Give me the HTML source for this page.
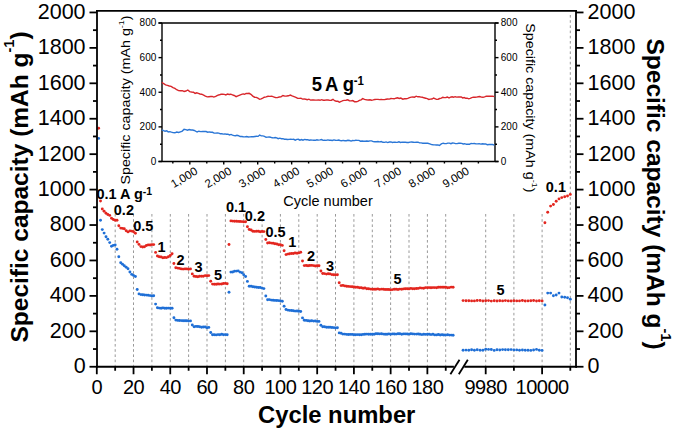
<!DOCTYPE html>
<html><head><meta charset="utf-8"><style>
html,body{margin:0;padding:0;background:#fff;width:675px;height:431px;overflow:hidden;position:relative}
</style></head><body>
<svg width="675" height="431" viewBox="0 0 675 431" style="position:absolute;left:0;top:0"><g stroke="#999" stroke-width="1" stroke-dasharray="2.6 2.6"><line x1="115.2" y1="214" x2="115.2" y2="365.75"/><line x1="133.5" y1="214" x2="133.5" y2="365.75"/><line x1="151.9" y1="214" x2="151.9" y2="365.75"/><line x1="170.3" y1="214" x2="170.3" y2="365.75"/><line x1="188.6" y1="214" x2="188.6" y2="365.75"/><line x1="207.0" y1="214" x2="207.0" y2="365.75"/><line x1="225.4" y1="214" x2="225.4" y2="365.75"/><line x1="243.7" y1="214" x2="243.7" y2="365.75"/><line x1="262.1" y1="214" x2="262.1" y2="365.75"/><line x1="280.4" y1="214" x2="280.4" y2="365.75"/><line x1="298.8" y1="214" x2="298.8" y2="365.75"/><line x1="317.2" y1="214" x2="317.2" y2="365.75"/><line x1="335.5" y1="214" x2="335.5" y2="365.75"/><line x1="353.9" y1="214" x2="353.9" y2="365.75"/><line x1="372.3" y1="214" x2="372.3" y2="365.75"/><line x1="390.6" y1="214" x2="390.6" y2="365.75"/><line x1="409.0" y1="214" x2="409.0" y2="365.75"/><line x1="427.4" y1="214" x2="427.4" y2="365.75"/><line x1="445.7" y1="214" x2="445.7" y2="365.75"/><line x1="485.7" y1="214" x2="485.7" y2="365.75"/><line x1="513.9" y1="214" x2="513.9" y2="365.75"/><line x1="542.1" y1="214" x2="542.1" y2="365.75"/><line x1="570.3" y1="15" x2="570.3" y2="365.75"/></g><g fill="#e3261f"><circle cx="98.6" cy="128.2" r="1.45"/><circle cx="100.5" cy="201.0" r="1.45"/><circle cx="102.3" cy="209.0" r="1.45"/><circle cx="104.1" cy="211.3" r="1.45"/><circle cx="106.0" cy="213.2" r="1.45"/><circle cx="107.8" cy="214.5" r="1.45"/><circle cx="109.7" cy="215.4" r="1.45"/><circle cx="111.5" cy="218.2" r="1.45"/><circle cx="113.3" cy="219.5" r="1.45"/><circle cx="115.2" cy="220.2" r="1.45"/><circle cx="117.0" cy="220.3" r="1.45"/><circle cx="118.8" cy="225.7" r="1.45"/><circle cx="120.7" cy="228.1" r="1.45"/><circle cx="122.5" cy="228.4" r="1.45"/><circle cx="124.3" cy="228.8" r="1.45"/><circle cx="126.2" cy="230.7" r="1.45"/><circle cx="128.0" cy="231.9" r="1.45"/><circle cx="129.9" cy="230.9" r="1.45"/><circle cx="131.7" cy="231.1" r="1.45"/><circle cx="133.5" cy="231.7" r="1.45"/><circle cx="135.4" cy="233.2" r="1.45"/><circle cx="137.2" cy="242.0" r="1.45"/><circle cx="139.0" cy="244.4" r="1.45"/><circle cx="140.9" cy="246.6" r="1.45"/><circle cx="142.7" cy="247.0" r="1.45"/><circle cx="144.5" cy="246.8" r="1.45"/><circle cx="146.4" cy="245.5" r="1.45"/><circle cx="148.2" cy="244.9" r="1.45"/><circle cx="150.1" cy="245.0" r="1.45"/><circle cx="151.9" cy="244.6" r="1.45"/><circle cx="153.7" cy="244.6" r="1.45"/><circle cx="155.6" cy="252.4" r="1.45"/><circle cx="157.4" cy="256.0" r="1.45"/><circle cx="159.2" cy="256.8" r="1.45"/><circle cx="161.1" cy="257.0" r="1.45"/><circle cx="162.9" cy="257.8" r="1.45"/><circle cx="164.8" cy="257.5" r="1.45"/><circle cx="166.6" cy="257.6" r="1.45"/><circle cx="168.4" cy="256.7" r="1.45"/><circle cx="170.3" cy="255.5" r="1.45"/><circle cx="172.1" cy="253.8" r="1.45"/><circle cx="173.9" cy="263.5" r="1.45"/><circle cx="175.8" cy="267.8" r="1.45"/><circle cx="177.6" cy="268.1" r="1.45"/><circle cx="179.4" cy="268.4" r="1.45"/><circle cx="181.3" cy="268.9" r="1.45"/><circle cx="183.1" cy="269.1" r="1.45"/><circle cx="185.0" cy="268.9" r="1.45"/><circle cx="186.8" cy="268.9" r="1.45"/><circle cx="188.6" cy="269.2" r="1.45"/><circle cx="190.5" cy="268.9" r="1.45"/><circle cx="192.3" cy="273.9" r="1.45"/><circle cx="194.1" cy="276.3" r="1.45"/><circle cx="196.0" cy="276.5" r="1.45"/><circle cx="197.8" cy="276.8" r="1.45"/><circle cx="199.6" cy="276.3" r="1.45"/><circle cx="201.5" cy="276.3" r="1.45"/><circle cx="203.3" cy="276.2" r="1.45"/><circle cx="205.2" cy="275.6" r="1.45"/><circle cx="207.0" cy="275.8" r="1.45"/><circle cx="208.8" cy="275.6" r="1.45"/><circle cx="210.7" cy="281.2" r="1.45"/><circle cx="212.5" cy="284.1" r="1.45"/><circle cx="214.3" cy="284.3" r="1.45"/><circle cx="216.2" cy="284.3" r="1.45"/><circle cx="218.0" cy="284.0" r="1.45"/><circle cx="219.8" cy="284.1" r="1.45"/><circle cx="221.7" cy="284.0" r="1.45"/><circle cx="223.5" cy="283.5" r="1.45"/><circle cx="225.4" cy="283.4" r="1.45"/><circle cx="227.2" cy="283.7" r="1.45"/><circle cx="229.0" cy="244.5" r="1.45"/><circle cx="230.9" cy="220.9" r="1.45"/><circle cx="232.7" cy="221.1" r="1.45"/><circle cx="234.5" cy="221.3" r="1.45"/><circle cx="236.4" cy="221.3" r="1.45"/><circle cx="238.2" cy="221.4" r="1.45"/><circle cx="240.0" cy="221.5" r="1.45"/><circle cx="241.9" cy="221.6" r="1.45"/><circle cx="243.7" cy="221.9" r="1.45"/><circle cx="245.6" cy="221.8" r="1.45"/><circle cx="247.4" cy="226.8" r="1.45"/><circle cx="249.2" cy="229.5" r="1.45"/><circle cx="251.1" cy="230.0" r="1.45"/><circle cx="252.9" cy="231.2" r="1.45"/><circle cx="254.7" cy="231.4" r="1.45"/><circle cx="256.6" cy="231.3" r="1.45"/><circle cx="258.4" cy="231.3" r="1.45"/><circle cx="260.2" cy="231.8" r="1.45"/><circle cx="262.1" cy="231.5" r="1.45"/><circle cx="263.9" cy="231.6" r="1.45"/><circle cx="265.8" cy="239.5" r="1.45"/><circle cx="267.6" cy="243.0" r="1.45"/><circle cx="269.4" cy="242.8" r="1.45"/><circle cx="271.3" cy="243.1" r="1.45"/><circle cx="273.1" cy="243.3" r="1.45"/><circle cx="274.9" cy="243.8" r="1.45"/><circle cx="276.8" cy="244.0" r="1.45"/><circle cx="278.6" cy="244.8" r="1.45"/><circle cx="280.4" cy="244.8" r="1.45"/><circle cx="282.3" cy="245.4" r="1.45"/><circle cx="284.1" cy="250.8" r="1.45"/><circle cx="286.0" cy="254.6" r="1.45"/><circle cx="287.8" cy="254.1" r="1.45"/><circle cx="289.6" cy="253.8" r="1.45"/><circle cx="291.5" cy="253.5" r="1.45"/><circle cx="293.3" cy="253.5" r="1.45"/><circle cx="295.1" cy="253.0" r="1.45"/><circle cx="297.0" cy="253.2" r="1.45"/><circle cx="298.8" cy="252.9" r="1.45"/><circle cx="300.7" cy="252.3" r="1.45"/><circle cx="302.5" cy="261.0" r="1.45"/><circle cx="304.3" cy="265.6" r="1.45"/><circle cx="306.2" cy="265.5" r="1.45"/><circle cx="308.0" cy="265.7" r="1.45"/><circle cx="309.8" cy="265.5" r="1.45"/><circle cx="311.7" cy="265.4" r="1.45"/><circle cx="313.5" cy="265.6" r="1.45"/><circle cx="315.3" cy="266.0" r="1.45"/><circle cx="317.2" cy="265.7" r="1.45"/><circle cx="319.0" cy="265.8" r="1.45"/><circle cx="320.9" cy="271.0" r="1.45"/><circle cx="322.7" cy="273.5" r="1.45"/><circle cx="324.5" cy="273.6" r="1.45"/><circle cx="326.4" cy="274.1" r="1.45"/><circle cx="328.2" cy="273.8" r="1.45"/><circle cx="330.0" cy="273.9" r="1.45"/><circle cx="331.9" cy="274.6" r="1.45"/><circle cx="333.7" cy="274.7" r="1.45"/><circle cx="335.5" cy="274.9" r="1.45"/><circle cx="337.4" cy="274.8" r="1.45"/><circle cx="339.2" cy="282.7" r="1.45"/><circle cx="341.1" cy="285.6" r="1.45"/><circle cx="342.9" cy="285.4" r="1.45"/><circle cx="344.7" cy="285.9" r="1.45"/><circle cx="346.6" cy="286.3" r="1.45"/><circle cx="348.4" cy="286.4" r="1.45"/><circle cx="350.2" cy="286.6" r="1.45"/><circle cx="352.1" cy="286.7" r="1.45"/><circle cx="353.9" cy="287.0" r="1.45"/><circle cx="355.7" cy="287.2" r="1.45"/><circle cx="357.6" cy="287.3" r="1.45"/><circle cx="359.4" cy="287.8" r="1.45"/><circle cx="361.3" cy="287.8" r="1.45"/><circle cx="363.1" cy="288.3" r="1.45"/><circle cx="364.9" cy="288.0" r="1.45"/><circle cx="366.8" cy="288.7" r="1.45"/><circle cx="368.6" cy="288.8" r="1.45"/><circle cx="370.4" cy="289.1" r="1.45"/><circle cx="372.3" cy="289.2" r="1.45"/><circle cx="374.1" cy="289.3" r="1.45"/><circle cx="375.9" cy="289.2" r="1.45"/><circle cx="377.8" cy="288.9" r="1.45"/><circle cx="379.6" cy="289.4" r="1.45"/><circle cx="381.5" cy="289.1" r="1.45"/><circle cx="383.3" cy="289.2" r="1.45"/><circle cx="385.1" cy="289.5" r="1.45"/><circle cx="387.0" cy="289.5" r="1.45"/><circle cx="388.8" cy="289.5" r="1.45"/><circle cx="390.6" cy="289.9" r="1.45"/><circle cx="392.5" cy="289.6" r="1.45"/><circle cx="394.3" cy="289.3" r="1.45"/><circle cx="396.1" cy="289.2" r="1.45"/><circle cx="398.0" cy="289.5" r="1.45"/><circle cx="399.8" cy="289.1" r="1.45"/><circle cx="401.7" cy="289.2" r="1.45"/><circle cx="403.5" cy="288.9" r="1.45"/><circle cx="405.3" cy="288.7" r="1.45"/><circle cx="407.2" cy="288.8" r="1.45"/><circle cx="409.0" cy="288.9" r="1.45"/><circle cx="410.8" cy="288.4" r="1.45"/><circle cx="412.7" cy="288.7" r="1.45"/><circle cx="414.5" cy="288.7" r="1.45"/><circle cx="416.4" cy="288.5" r="1.45"/><circle cx="418.2" cy="288.4" r="1.45"/><circle cx="420.0" cy="287.9" r="1.45"/><circle cx="421.9" cy="288.1" r="1.45"/><circle cx="423.7" cy="288.2" r="1.45"/><circle cx="425.5" cy="287.6" r="1.45"/><circle cx="427.4" cy="287.7" r="1.45"/><circle cx="429.2" cy="287.6" r="1.45"/><circle cx="431.0" cy="287.7" r="1.45"/><circle cx="432.9" cy="287.6" r="1.45"/><circle cx="434.7" cy="287.6" r="1.45"/><circle cx="436.6" cy="287.8" r="1.45"/><circle cx="438.4" cy="287.3" r="1.45"/><circle cx="440.2" cy="287.3" r="1.45"/><circle cx="442.1" cy="287.3" r="1.45"/><circle cx="443.9" cy="287.3" r="1.45"/><circle cx="445.7" cy="287.2" r="1.45"/><circle cx="447.6" cy="287.7" r="1.45"/><circle cx="449.4" cy="287.6" r="1.45"/><circle cx="451.2" cy="287.1" r="1.45"/><circle cx="453.1" cy="287.3" r="1.45"/></g><g fill="#1f6fd6"><circle cx="98.6" cy="138.4" r="1.45"/><circle cx="100.5" cy="220.2" r="1.45"/><circle cx="102.3" cy="229.6" r="1.45"/><circle cx="104.1" cy="233.1" r="1.45"/><circle cx="106.0" cy="236.7" r="1.45"/><circle cx="107.8" cy="239.3" r="1.45"/><circle cx="109.7" cy="242.6" r="1.45"/><circle cx="111.5" cy="246.2" r="1.45"/><circle cx="113.3" cy="245.4" r="1.45"/><circle cx="115.2" cy="244.9" r="1.45"/><circle cx="117.0" cy="249.2" r="1.45"/><circle cx="118.8" cy="256.7" r="1.45"/><circle cx="120.7" cy="262.7" r="1.45"/><circle cx="122.5" cy="264.2" r="1.45"/><circle cx="124.3" cy="265.7" r="1.45"/><circle cx="126.2" cy="267.3" r="1.45"/><circle cx="128.0" cy="268.8" r="1.45"/><circle cx="129.9" cy="272.0" r="1.45"/><circle cx="131.7" cy="274.4" r="1.45"/><circle cx="133.5" cy="275.4" r="1.45"/><circle cx="135.4" cy="276.5" r="1.45"/><circle cx="137.2" cy="289.5" r="1.45"/><circle cx="139.0" cy="293.9" r="1.45"/><circle cx="140.9" cy="294.6" r="1.45"/><circle cx="142.7" cy="294.7" r="1.45"/><circle cx="144.5" cy="295.0" r="1.45"/><circle cx="146.4" cy="295.1" r="1.45"/><circle cx="148.2" cy="295.2" r="1.45"/><circle cx="150.1" cy="295.6" r="1.45"/><circle cx="151.9" cy="295.9" r="1.45"/><circle cx="153.7" cy="295.7" r="1.45"/><circle cx="155.6" cy="304.1" r="1.45"/><circle cx="157.4" cy="307.8" r="1.45"/><circle cx="159.2" cy="308.1" r="1.45"/><circle cx="161.1" cy="308.2" r="1.45"/><circle cx="162.9" cy="307.9" r="1.45"/><circle cx="164.8" cy="308.3" r="1.45"/><circle cx="166.6" cy="308.3" r="1.45"/><circle cx="168.4" cy="308.1" r="1.45"/><circle cx="170.3" cy="308.3" r="1.45"/><circle cx="172.1" cy="308.2" r="1.45"/><circle cx="173.9" cy="317.7" r="1.45"/><circle cx="175.8" cy="320.1" r="1.45"/><circle cx="177.6" cy="320.4" r="1.45"/><circle cx="179.4" cy="320.5" r="1.45"/><circle cx="181.3" cy="320.6" r="1.45"/><circle cx="183.1" cy="320.7" r="1.45"/><circle cx="185.0" cy="320.8" r="1.45"/><circle cx="186.8" cy="320.7" r="1.45"/><circle cx="188.6" cy="321.1" r="1.45"/><circle cx="190.5" cy="320.9" r="1.45"/><circle cx="192.3" cy="325.0" r="1.45"/><circle cx="194.1" cy="326.7" r="1.45"/><circle cx="196.0" cy="326.4" r="1.45"/><circle cx="197.8" cy="326.5" r="1.45"/><circle cx="199.6" cy="326.7" r="1.45"/><circle cx="201.5" cy="327.3" r="1.45"/><circle cx="203.3" cy="327.0" r="1.45"/><circle cx="205.2" cy="327.0" r="1.45"/><circle cx="207.0" cy="327.7" r="1.45"/><circle cx="208.8" cy="327.4" r="1.45"/><circle cx="210.7" cy="332.5" r="1.45"/><circle cx="212.5" cy="334.7" r="1.45"/><circle cx="214.3" cy="334.8" r="1.45"/><circle cx="216.2" cy="334.9" r="1.45"/><circle cx="218.0" cy="334.6" r="1.45"/><circle cx="219.8" cy="334.8" r="1.45"/><circle cx="221.7" cy="334.3" r="1.45"/><circle cx="223.5" cy="334.8" r="1.45"/><circle cx="225.4" cy="334.6" r="1.45"/><circle cx="227.2" cy="334.7" r="1.45"/><circle cx="229.0" cy="292.2" r="1.45"/><circle cx="230.9" cy="272.1" r="1.45"/><circle cx="232.7" cy="272.0" r="1.45"/><circle cx="234.5" cy="271.2" r="1.45"/><circle cx="236.4" cy="271.1" r="1.45"/><circle cx="238.2" cy="270.9" r="1.45"/><circle cx="240.0" cy="272.1" r="1.45"/><circle cx="241.9" cy="272.8" r="1.45"/><circle cx="243.7" cy="274.7" r="1.45"/><circle cx="245.6" cy="276.5" r="1.45"/><circle cx="247.4" cy="281.4" r="1.45"/><circle cx="249.2" cy="286.2" r="1.45"/><circle cx="251.1" cy="286.3" r="1.45"/><circle cx="252.9" cy="286.7" r="1.45"/><circle cx="254.7" cy="287.0" r="1.45"/><circle cx="256.6" cy="287.2" r="1.45"/><circle cx="258.4" cy="287.5" r="1.45"/><circle cx="260.2" cy="287.5" r="1.45"/><circle cx="262.1" cy="288.1" r="1.45"/><circle cx="263.9" cy="288.6" r="1.45"/><circle cx="265.8" cy="296.0" r="1.45"/><circle cx="267.6" cy="299.7" r="1.45"/><circle cx="269.4" cy="299.6" r="1.45"/><circle cx="271.3" cy="300.1" r="1.45"/><circle cx="273.1" cy="300.3" r="1.45"/><circle cx="274.9" cy="300.4" r="1.45"/><circle cx="276.8" cy="300.5" r="1.45"/><circle cx="278.6" cy="300.6" r="1.45"/><circle cx="280.4" cy="300.9" r="1.45"/><circle cx="282.3" cy="301.2" r="1.45"/><circle cx="284.1" cy="306.3" r="1.45"/><circle cx="286.0" cy="309.5" r="1.45"/><circle cx="287.8" cy="310.1" r="1.45"/><circle cx="289.6" cy="310.4" r="1.45"/><circle cx="291.5" cy="310.5" r="1.45"/><circle cx="293.3" cy="310.7" r="1.45"/><circle cx="295.1" cy="311.1" r="1.45"/><circle cx="297.0" cy="311.0" r="1.45"/><circle cx="298.8" cy="311.3" r="1.45"/><circle cx="300.7" cy="311.5" r="1.45"/><circle cx="302.5" cy="317.9" r="1.45"/><circle cx="304.3" cy="320.3" r="1.45"/><circle cx="306.2" cy="320.4" r="1.45"/><circle cx="308.0" cy="320.7" r="1.45"/><circle cx="309.8" cy="321.0" r="1.45"/><circle cx="311.7" cy="320.7" r="1.45"/><circle cx="313.5" cy="321.1" r="1.45"/><circle cx="315.3" cy="321.0" r="1.45"/><circle cx="317.2" cy="321.4" r="1.45"/><circle cx="319.0" cy="321.4" r="1.45"/><circle cx="320.9" cy="325.2" r="1.45"/><circle cx="322.7" cy="326.8" r="1.45"/><circle cx="324.5" cy="326.8" r="1.45"/><circle cx="326.4" cy="327.2" r="1.45"/><circle cx="328.2" cy="327.3" r="1.45"/><circle cx="330.0" cy="327.3" r="1.45"/><circle cx="331.9" cy="327.5" r="1.45"/><circle cx="333.7" cy="327.6" r="1.45"/><circle cx="335.5" cy="328.0" r="1.45"/><circle cx="337.4" cy="327.7" r="1.45"/><circle cx="339.2" cy="332.9" r="1.45"/><circle cx="341.1" cy="333.3" r="1.45"/><circle cx="342.9" cy="334.1" r="1.45"/><circle cx="344.7" cy="334.1" r="1.45"/><circle cx="346.6" cy="334.4" r="1.45"/><circle cx="348.4" cy="334.5" r="1.45"/><circle cx="350.2" cy="334.4" r="1.45"/><circle cx="352.1" cy="334.4" r="1.45"/><circle cx="353.9" cy="334.7" r="1.45"/><circle cx="355.7" cy="334.8" r="1.45"/><circle cx="357.6" cy="334.6" r="1.45"/><circle cx="359.4" cy="334.8" r="1.45"/><circle cx="361.3" cy="334.8" r="1.45"/><circle cx="363.1" cy="334.4" r="1.45"/><circle cx="364.9" cy="334.2" r="1.45"/><circle cx="366.8" cy="334.1" r="1.45"/><circle cx="368.6" cy="334.3" r="1.45"/><circle cx="370.4" cy="334.2" r="1.45"/><circle cx="372.3" cy="334.3" r="1.45"/><circle cx="374.1" cy="334.2" r="1.45"/><circle cx="375.9" cy="333.8" r="1.45"/><circle cx="377.8" cy="333.8" r="1.45"/><circle cx="379.6" cy="333.9" r="1.45"/><circle cx="381.5" cy="333.8" r="1.45"/><circle cx="383.3" cy="334.1" r="1.45"/><circle cx="385.1" cy="334.2" r="1.45"/><circle cx="387.0" cy="334.2" r="1.45"/><circle cx="388.8" cy="333.9" r="1.45"/><circle cx="390.6" cy="334.2" r="1.45"/><circle cx="392.5" cy="333.9" r="1.45"/><circle cx="394.3" cy="334.0" r="1.45"/><circle cx="396.1" cy="334.1" r="1.45"/><circle cx="398.0" cy="333.8" r="1.45"/><circle cx="399.8" cy="333.8" r="1.45"/><circle cx="401.7" cy="334.2" r="1.45"/><circle cx="403.5" cy="333.9" r="1.45"/><circle cx="405.3" cy="333.9" r="1.45"/><circle cx="407.2" cy="334.0" r="1.45"/><circle cx="409.0" cy="334.1" r="1.45"/><circle cx="410.8" cy="333.7" r="1.45"/><circle cx="412.7" cy="333.9" r="1.45"/><circle cx="414.5" cy="334.1" r="1.45"/><circle cx="416.4" cy="334.1" r="1.45"/><circle cx="418.2" cy="334.0" r="1.45"/><circle cx="420.0" cy="334.3" r="1.45"/><circle cx="421.9" cy="334.6" r="1.45"/><circle cx="423.7" cy="334.3" r="1.45"/><circle cx="425.5" cy="334.4" r="1.45"/><circle cx="427.4" cy="334.2" r="1.45"/><circle cx="429.2" cy="334.3" r="1.45"/><circle cx="431.0" cy="334.6" r="1.45"/><circle cx="432.9" cy="334.3" r="1.45"/><circle cx="434.7" cy="334.9" r="1.45"/><circle cx="436.6" cy="334.9" r="1.45"/><circle cx="438.4" cy="334.5" r="1.45"/><circle cx="440.2" cy="335.0" r="1.45"/><circle cx="442.1" cy="334.7" r="1.45"/><circle cx="443.9" cy="335.0" r="1.45"/><circle cx="445.7" cy="335.1" r="1.45"/><circle cx="447.6" cy="334.8" r="1.45"/><circle cx="449.4" cy="335.1" r="1.45"/><circle cx="451.2" cy="335.1" r="1.45"/><circle cx="453.1" cy="335.3" r="1.45"/></g><g fill="#e3261f"><circle cx="463.1" cy="300.6" r="1.45"/><circle cx="466.0" cy="300.8" r="1.45"/><circle cx="468.8" cy="300.7" r="1.45"/><circle cx="471.6" cy="300.9" r="1.45"/><circle cx="474.4" cy="300.9" r="1.45"/><circle cx="477.2" cy="300.5" r="1.45"/><circle cx="480.1" cy="300.5" r="1.45"/><circle cx="482.9" cy="301.0" r="1.45"/><circle cx="485.7" cy="300.7" r="1.45"/><circle cx="488.5" cy="300.6" r="1.45"/><circle cx="491.3" cy="301.1" r="1.45"/><circle cx="494.2" cy="300.8" r="1.45"/><circle cx="497.0" cy="301.0" r="1.45"/><circle cx="499.8" cy="300.8" r="1.45"/><circle cx="502.6" cy="300.9" r="1.45"/><circle cx="505.4" cy="300.6" r="1.45"/><circle cx="508.3" cy="300.9" r="1.45"/><circle cx="511.1" cy="301.0" r="1.45"/><circle cx="513.9" cy="300.8" r="1.45"/><circle cx="516.7" cy="300.9" r="1.45"/><circle cx="519.5" cy="300.9" r="1.45"/><circle cx="522.4" cy="300.5" r="1.45"/><circle cx="525.2" cy="301.0" r="1.45"/><circle cx="528.0" cy="300.9" r="1.45"/><circle cx="530.8" cy="300.7" r="1.45"/><circle cx="533.6" cy="300.5" r="1.45"/><circle cx="536.5" cy="301.0" r="1.45"/><circle cx="539.3" cy="300.8" r="1.45"/><circle cx="542.1" cy="300.9" r="1.45"/><circle cx="544.9" cy="222.8" r="1.45"/><circle cx="547.7" cy="212.3" r="1.45"/><circle cx="550.6" cy="206.1" r="1.45"/><circle cx="553.4" cy="204.5" r="1.45"/><circle cx="556.2" cy="201.2" r="1.45"/><circle cx="559.0" cy="198.9" r="1.45"/><circle cx="561.8" cy="197.6" r="1.45"/><circle cx="564.7" cy="196.8" r="1.45"/><circle cx="567.5" cy="196.0" r="1.45"/><circle cx="570.3" cy="194.4" r="1.45"/></g><g fill="#1f6fd6"><circle cx="463.1" cy="350.3" r="1.45"/><circle cx="466.0" cy="350.1" r="1.45"/><circle cx="468.8" cy="350.3" r="1.45"/><circle cx="471.6" cy="349.7" r="1.45"/><circle cx="474.4" cy="350.2" r="1.45"/><circle cx="477.2" cy="349.7" r="1.45"/><circle cx="480.1" cy="350.3" r="1.45"/><circle cx="482.9" cy="350.3" r="1.45"/><circle cx="485.7" cy="349.3" r="1.45"/><circle cx="488.5" cy="349.4" r="1.45"/><circle cx="491.3" cy="349.5" r="1.45"/><circle cx="494.2" cy="350.4" r="1.45"/><circle cx="497.0" cy="349.7" r="1.45"/><circle cx="499.8" cy="350.0" r="1.45"/><circle cx="502.6" cy="349.6" r="1.45"/><circle cx="505.4" cy="349.8" r="1.45"/><circle cx="508.3" cy="349.7" r="1.45"/><circle cx="511.1" cy="349.6" r="1.45"/><circle cx="513.9" cy="349.9" r="1.45"/><circle cx="516.7" cy="349.9" r="1.45"/><circle cx="519.5" cy="350.3" r="1.45"/><circle cx="522.4" cy="350.0" r="1.45"/><circle cx="525.2" cy="350.3" r="1.45"/><circle cx="528.0" cy="350.2" r="1.45"/><circle cx="530.8" cy="350.4" r="1.45"/><circle cx="533.6" cy="350.0" r="1.45"/><circle cx="536.5" cy="349.4" r="1.45"/><circle cx="539.3" cy="350.2" r="1.45"/><circle cx="542.1" cy="350.4" r="1.45"/><circle cx="544.9" cy="305.0" r="1.45"/><circle cx="547.7" cy="293.1" r="1.45"/><circle cx="550.6" cy="293.1" r="1.45"/><circle cx="553.4" cy="295.8" r="1.45"/><circle cx="556.2" cy="295.0" r="1.45"/><circle cx="559.0" cy="293.1" r="1.45"/><circle cx="561.8" cy="297.0" r="1.45"/><circle cx="564.7" cy="297.3" r="1.45"/><circle cx="567.5" cy="297.7" r="1.45"/><circle cx="570.3" cy="299.3" r="1.45"/></g><g stroke="#000" stroke-width="1.8" stroke-linecap="butt"><line x1="97.0" y1="10.8" x2="97.0" y2="367.65"/><line x1="576.0" y1="10.8" x2="576.0" y2="367.65"/><line x1="96.0" y1="10.8" x2="577.0" y2="10.8"/><line x1="96.0" y1="366.75" x2="453.9" y2="366.75"/><line x1="464.3" y1="366.75" x2="577.0" y2="366.75"/><line x1="89.5" y1="366.75" x2="97.0" y2="366.75"/><line x1="576.0" y1="366.75" x2="583.5" y2="366.75"/><line x1="93.0" y1="349.04" x2="97.0" y2="349.04"/><line x1="576.0" y1="349.04" x2="580.0" y2="349.04"/><line x1="89.5" y1="331.32" x2="97.0" y2="331.32"/><line x1="576.0" y1="331.32" x2="583.5" y2="331.32"/><line x1="93.0" y1="313.61" x2="97.0" y2="313.61"/><line x1="576.0" y1="313.61" x2="580.0" y2="313.61"/><line x1="89.5" y1="295.89" x2="97.0" y2="295.89"/><line x1="576.0" y1="295.89" x2="583.5" y2="295.89"/><line x1="93.0" y1="278.18" x2="97.0" y2="278.18"/><line x1="576.0" y1="278.18" x2="580.0" y2="278.18"/><line x1="89.5" y1="260.46" x2="97.0" y2="260.46"/><line x1="576.0" y1="260.46" x2="583.5" y2="260.46"/><line x1="93.0" y1="242.75" x2="97.0" y2="242.75"/><line x1="576.0" y1="242.75" x2="580.0" y2="242.75"/><line x1="89.5" y1="225.03" x2="97.0" y2="225.03"/><line x1="576.0" y1="225.03" x2="583.5" y2="225.03"/><line x1="93.0" y1="207.31" x2="97.0" y2="207.31"/><line x1="576.0" y1="207.31" x2="580.0" y2="207.31"/><line x1="89.5" y1="189.60" x2="97.0" y2="189.60"/><line x1="576.0" y1="189.60" x2="583.5" y2="189.60"/><line x1="93.0" y1="171.88" x2="97.0" y2="171.88"/><line x1="576.0" y1="171.88" x2="580.0" y2="171.88"/><line x1="89.5" y1="154.17" x2="97.0" y2="154.17"/><line x1="576.0" y1="154.17" x2="583.5" y2="154.17"/><line x1="93.0" y1="136.45" x2="97.0" y2="136.45"/><line x1="576.0" y1="136.45" x2="580.0" y2="136.45"/><line x1="89.5" y1="118.74" x2="97.0" y2="118.74"/><line x1="576.0" y1="118.74" x2="583.5" y2="118.74"/><line x1="93.0" y1="101.02" x2="97.0" y2="101.02"/><line x1="576.0" y1="101.02" x2="580.0" y2="101.02"/><line x1="89.5" y1="83.31" x2="97.0" y2="83.31"/><line x1="576.0" y1="83.31" x2="583.5" y2="83.31"/><line x1="93.0" y1="65.59" x2="97.0" y2="65.59"/><line x1="576.0" y1="65.59" x2="580.0" y2="65.59"/><line x1="89.5" y1="47.88" x2="97.0" y2="47.88"/><line x1="576.0" y1="47.88" x2="583.5" y2="47.88"/><line x1="93.0" y1="30.17" x2="97.0" y2="30.17"/><line x1="576.0" y1="30.17" x2="580.0" y2="30.17"/><line x1="89.5" y1="12.45" x2="97.0" y2="12.45"/><line x1="576.0" y1="12.45" x2="583.5" y2="12.45"/><line x1="96.80" y1="366.75" x2="96.80" y2="374.25"/><line x1="115.16" y1="366.75" x2="115.16" y2="370.75"/><line x1="133.53" y1="366.75" x2="133.53" y2="374.25"/><line x1="151.89" y1="366.75" x2="151.89" y2="370.75"/><line x1="170.26" y1="366.75" x2="170.26" y2="374.25"/><line x1="188.62" y1="366.75" x2="188.62" y2="370.75"/><line x1="206.99" y1="366.75" x2="206.99" y2="374.25"/><line x1="225.36" y1="366.75" x2="225.36" y2="370.75"/><line x1="243.72" y1="366.75" x2="243.72" y2="374.25"/><line x1="262.08" y1="366.75" x2="262.08" y2="370.75"/><line x1="280.45" y1="366.75" x2="280.45" y2="374.25"/><line x1="298.81" y1="366.75" x2="298.81" y2="370.75"/><line x1="317.18" y1="366.75" x2="317.18" y2="374.25"/><line x1="335.55" y1="366.75" x2="335.55" y2="370.75"/><line x1="353.91" y1="366.75" x2="353.91" y2="374.25"/><line x1="372.28" y1="366.75" x2="372.28" y2="370.75"/><line x1="390.64" y1="366.75" x2="390.64" y2="374.25"/><line x1="409.00" y1="366.75" x2="409.00" y2="370.75"/><line x1="427.37" y1="366.75" x2="427.37" y2="374.25"/><line x1="445.74" y1="366.75" x2="445.74" y2="370.75"/><line x1="485.70" y1="366.75" x2="485.70" y2="374.25"/><line x1="513.90" y1="366.75" x2="513.90" y2="370.75"/><line x1="542.10" y1="366.75" x2="542.10" y2="374.25"/><line x1="570.30" y1="366.75" x2="570.30" y2="370.75"/><line x1="450.4" y1="374.3" x2="459.5" y2="359.7"/><line x1="458.8" y1="374.3" x2="467.8" y2="359.7"/></g><g font-family='"Liberation Sans", sans-serif' font-size="21.5" fill="#000"><text x="85.6" y="373.1" text-anchor="end">0</text><text x="587.6" y="373.1">0</text><text x="85.6" y="337.6" text-anchor="end">200</text><text x="587.6" y="337.6">200</text><text x="85.6" y="302.2" text-anchor="end">400</text><text x="587.6" y="302.2">400</text><text x="85.6" y="266.8" text-anchor="end">600</text><text x="587.6" y="266.8">600</text><text x="85.6" y="231.3" text-anchor="end">800</text><text x="587.6" y="231.3">800</text><text x="85.6" y="195.9" text-anchor="end">1000</text><text x="587.6" y="195.9">1000</text><text x="85.6" y="160.5" text-anchor="end">1200</text><text x="587.6" y="160.5">1200</text><text x="85.6" y="125.0" text-anchor="end">1400</text><text x="587.6" y="125.0">1400</text><text x="85.6" y="89.6" text-anchor="end">1600</text><text x="587.6" y="89.6">1600</text><text x="85.6" y="54.2" text-anchor="end">1800</text><text x="587.6" y="54.2">1800</text><text x="85.6" y="18.7" text-anchor="end">2000</text><text x="587.6" y="18.7">2000</text></g><g font-family='"Liberation Sans", sans-serif' font-size="20" letter-spacing="-0.5" fill="#000"><text x="96.8" y="393.9" text-anchor="middle">0</text><text x="133.5" y="393.9" text-anchor="middle">20</text><text x="170.3" y="393.9" text-anchor="middle">40</text><text x="207.0" y="393.9" text-anchor="middle">60</text><text x="243.7" y="393.9" text-anchor="middle">80</text><text x="280.4" y="393.9" text-anchor="middle">100</text><text x="317.2" y="393.9" text-anchor="middle">120</text><text x="353.9" y="393.9" text-anchor="middle">140</text><text x="390.6" y="393.9" text-anchor="middle">160</text><text x="427.4" y="393.9" text-anchor="middle">180</text><text x="485.7" y="393.9" text-anchor="middle">9980</text><text x="542.1" y="393.9" text-anchor="middle">10000</text></g><text font-family='"Liberation Sans", sans-serif' font-weight="bold" font-size="24.5" x="0" y="0" transform="translate(27.9,342.5) rotate(-90)">Specific capacity (mAh g<tspan dy="-14.4" font-size="14.5">-1</tspan><tspan dy="14.4">)</tspan></text><text font-family='"Liberation Sans", sans-serif' font-weight="bold" font-size="24.5" x="0" y="0" transform="translate(647,38.5) rotate(90)">Specific capacity (mAh g<tspan dy="-14.4" font-size="14.5">-1</tspan><tspan dy="14.4">)</tspan></text><text font-family='"Liberation Sans", sans-serif' font-weight="bold" font-size="23.8" x="258" y="423.2">Cycle number</text><g font-family='"Liberation Sans", sans-serif' font-weight="bold" font-size="14.5" fill="#000"><text x="96.4" y="199.2">0.1 A g<tspan dy="-3.8" font-size="10.5">-1</tspan></text><text x="113.8" y="214.8">0.2</text><text x="133.2" y="230.8">0.5</text><text x="157.6" y="252.4">1</text><text x="176.5" y="264.9">2</text><text x="194.5" y="271.9">3</text><text x="214" y="280.1">5</text><text x="225.9" y="211.9">0.1</text><text x="244.8" y="221">0.2</text><text x="265.5" y="236.8">0.5</text><text x="288.2" y="247.3">1</text><text x="307.1" y="261.1">2</text><text x="326" y="270.6">3</text><text x="393.6" y="283.6">5</text><text x="496.4" y="294.5">5</text><text x="545.8" y="192.4">0.1</text></g><g stroke="#000" stroke-width="1.4"><line x1="162" y1="23" x2="162" y2="161.5"/><line x1="495" y1="23" x2="495" y2="161.5"/><line x1="158.5" y1="23" x2="498.5" y2="23"/><line x1="158.5" y1="161.5" x2="498.5" y2="161.5"/><line x1="158.5" y1="161.50" x2="162" y2="161.50"/><line x1="495" y1="161.50" x2="498.5" y2="161.50"/><line x1="160" y1="144.19" x2="162" y2="144.19"/><line x1="495" y1="144.19" x2="497" y2="144.19"/><line x1="158.5" y1="126.88" x2="162" y2="126.88"/><line x1="495" y1="126.88" x2="498.5" y2="126.88"/><line x1="160" y1="109.56" x2="162" y2="109.56"/><line x1="495" y1="109.56" x2="497" y2="109.56"/><line x1="158.5" y1="92.25" x2="162" y2="92.25"/><line x1="495" y1="92.25" x2="498.5" y2="92.25"/><line x1="160" y1="74.94" x2="162" y2="74.94"/><line x1="495" y1="74.94" x2="497" y2="74.94"/><line x1="158.5" y1="57.62" x2="162" y2="57.62"/><line x1="495" y1="57.62" x2="498.5" y2="57.62"/><line x1="160" y1="40.31" x2="162" y2="40.31"/><line x1="495" y1="40.31" x2="497" y2="40.31"/><line x1="158.5" y1="23.00" x2="162" y2="23.00"/><line x1="495" y1="23.00" x2="498.5" y2="23.00"/><line x1="172.83" y1="161.5" x2="172.83" y2="163.5"/><line x1="189.80" y1="161.5" x2="189.80" y2="164.5"/><line x1="206.78" y1="161.5" x2="206.78" y2="163.5"/><line x1="223.75" y1="161.5" x2="223.75" y2="164.5"/><line x1="240.73" y1="161.5" x2="240.73" y2="163.5"/><line x1="257.70" y1="161.5" x2="257.70" y2="164.5"/><line x1="274.68" y1="161.5" x2="274.68" y2="163.5"/><line x1="291.65" y1="161.5" x2="291.65" y2="164.5"/><line x1="308.62" y1="161.5" x2="308.62" y2="163.5"/><line x1="325.60" y1="161.5" x2="325.60" y2="164.5"/><line x1="342.58" y1="161.5" x2="342.58" y2="163.5"/><line x1="359.55" y1="161.5" x2="359.55" y2="164.5"/><line x1="376.52" y1="161.5" x2="376.52" y2="163.5"/><line x1="393.50" y1="161.5" x2="393.50" y2="164.5"/><line x1="410.48" y1="161.5" x2="410.48" y2="163.5"/><line x1="427.45" y1="161.5" x2="427.45" y2="164.5"/><line x1="444.43" y1="161.5" x2="444.43" y2="163.5"/><line x1="461.40" y1="161.5" x2="461.40" y2="164.5"/><line x1="478.38" y1="161.5" x2="478.38" y2="163.5"/></g><g font-family='"Liberation Sans", sans-serif' font-size="10" fill="#000"><text x="156.3" y="164.9" text-anchor="end">0</text><text x="500.8" y="164.9">0</text><text x="156.3" y="130.3" text-anchor="end">200</text><text x="500.8" y="130.3">200</text><text x="156.3" y="95.7" text-anchor="end">400</text><text x="500.8" y="95.7">400</text><text x="156.3" y="61.0" text-anchor="end">600</text><text x="500.8" y="61.0">600</text><text x="156.3" y="26.4" text-anchor="end">800</text><text x="500.8" y="26.4">800</text><text x="0" y="4" font-size="11.5" text-anchor="middle" transform="translate(184.1,177.3) rotate(-31)">1,000</text><text x="0" y="4" font-size="11.5" text-anchor="middle" transform="translate(218.1,177.3) rotate(-31)">2,000</text><text x="0" y="4" font-size="11.5" text-anchor="middle" transform="translate(252.0,177.3) rotate(-31)">3,000</text><text x="0" y="4" font-size="11.5" text-anchor="middle" transform="translate(286.0,177.3) rotate(-31)">4,000</text><text x="0" y="4" font-size="11.5" text-anchor="middle" transform="translate(319.9,177.3) rotate(-31)">5,000</text><text x="0" y="4" font-size="11.5" text-anchor="middle" transform="translate(353.9,177.3) rotate(-31)">6,000</text><text x="0" y="4" font-size="11.5" text-anchor="middle" transform="translate(387.8,177.3) rotate(-31)">7,000</text><text x="0" y="4" font-size="11.5" text-anchor="middle" transform="translate(421.8,177.3) rotate(-31)">8,000</text><text x="0" y="4" font-size="11.5" text-anchor="middle" transform="translate(455.7,177.3) rotate(-31)">9,000</text></g><text font-family='"Liberation Sans", sans-serif' font-size="14.5" x="283.3" y="206">Cycle number</text><text font-family='"Liberation Sans", sans-serif' font-size="14.3" transform="translate(129.8,184.6) rotate(-90) scale(1,0.9)">Specific capacity (mAh g<tspan dy="-6" font-size="9">-1</tspan><tspan dy="6">)</tspan></text><text font-family='"Liberation Sans", sans-serif' font-size="14.3" transform="translate(526.3,23.2) rotate(90) scale(1,0.9)">Specific capacity (mAh g<tspan dy="-6" font-size="9">-1</tspan><tspan dy="6">)</tspan></text><text font-family='"Liberation Sans", sans-serif' font-weight="bold" font-size="18.5" transform="translate(311.8,90.6) scale(1,1.08)" word-spacing="-1.5">5 A <tspan dx="1.5">g</tspan><tspan dx="-0.5" dy="-5.5" font-size="11.5">-1</tspan></text><polyline fill="none" stroke="#d8262b" stroke-width="1.4" points="161.9,82.3 163.7,83.7 165.6,84.8 167.4,85.4 169.3,86.0 171.1,86.4 173.0,87.6 174.9,88.4 176.7,89.7 178.6,90.6 180.4,90.8 182.3,90.7 184.1,91.5 185.9,91.0 187.8,90.0 189.7,91.6 191.5,92.0 193.4,92.2 195.1,93.4 196.7,92.8 198.4,93.3 200.0,94.0 201.7,94.2 203.6,95.1 205.4,96.1 207.3,96.9 208.9,96.7 210.6,96.5 212.2,96.4 213.8,97.1 215.7,96.4 217.5,95.3 219.4,94.8 221.0,94.3 222.7,94.2 224.3,94.4 225.9,94.9 227.5,94.0 229.2,94.5 230.8,94.2 232.4,94.8 234.2,95.5 236.1,96.7 237.9,95.9 239.8,95.1 241.6,94.4 243.1,93.9 244.6,94.3 246.1,93.4 247.6,93.5 249.1,93.3 250.9,94.3 252.8,96.1 254.6,97.2 256.3,97.4 257.9,98.2 259.6,99.3 261.2,98.8 262.7,98.1 264.3,97.2 266.1,96.9 268.0,96.3 269.9,96.4 271.7,96.1 273.6,96.9 275.4,97.5 277.3,97.6 279.2,97.0 281.0,96.9 282.9,95.5 284.8,96.1 286.6,96.0 288.4,95.8 290.3,95.0 292.1,95.9 294.0,96.6 295.9,97.3 297.7,98.4 299.3,98.4 300.9,98.2 302.5,99.1 304.1,98.9 305.7,99.3 307.3,99.7 308.9,99.2 310.5,100.1 312.1,100.0 313.7,99.9 315.2,100.1 316.8,100.1 318.4,99.9 320.0,100.3 321.6,99.7 323.2,100.2 324.9,100.2 326.5,99.9 328.1,100.0 329.8,100.4 331.4,100.2 333.0,99.3 334.6,100.7 336.2,101.2 337.9,101.3 339.5,102.3 341.1,101.5 342.8,100.6 344.4,100.4 346.0,100.2 347.7,99.8 349.4,100.7 351.1,100.9 352.8,100.6 354.5,101.7 356.2,101.7 357.8,101.4 359.4,100.4 361.1,99.8 362.7,98.6 364.5,99.4 366.4,99.8 368.2,100.0 370.0,99.8 371.6,100.2 373.2,99.9 374.8,99.5 376.4,99.4 378.0,99.4 379.6,99.6 381.2,99.4 382.8,99.6 384.5,99.6 386.1,99.3 387.7,99.0 389.3,99.1 390.9,98.5 392.6,98.6 394.2,98.8 395.9,98.2 397.5,97.8 399.2,98.5 400.8,98.1 402.8,99.2 404.5,98.8 406.1,98.7 407.8,98.4 409.5,97.6 411.2,97.1 412.9,97.0 414.5,97.2 416.2,96.2 417.8,96.8 419.3,96.8 420.9,97.1 422.4,97.3 424.0,97.8 425.6,98.2 427.2,98.7 428.8,99.5 430.4,99.1 432.0,99.0 433.6,98.0 436.5,99.4 438.1,99.2 439.7,98.5 441.3,98.1 442.8,97.3 444.4,97.6 445.9,97.5 447.5,97.0 449.0,98.0 450.5,97.1 452.1,96.8 453.6,97.2 455.2,96.7 456.7,97.1 458.2,97.0 459.7,96.9 461.2,97.0 462.7,97.9 464.2,97.6 465.7,98.3 467.2,98.1 468.7,98.8 470.2,98.3 471.8,97.7 473.4,97.2 475.0,97.3 476.6,97.1 478.2,96.8 479.8,96.5 481.4,97.1 483.0,97.3 484.6,96.9 486.3,96.2 487.9,96.2 489.5,96.2 491.1,96.3 492.7,96.1 494.3,96.6"/><polyline fill="none" stroke="#2a76d6" stroke-width="1.4" points="161.9,129.9 163.5,130.7 165.1,131.2 166.7,130.8 168.2,131.9 169.8,131.6 171.4,132.2 173.0,132.6 174.9,132.8 176.7,132.1 178.6,132.5 180.4,131.8 182.3,131.1 184.1,129.3 185.8,129.6 187.5,130.2 189.2,129.6 190.9,130.0 192.6,130.0 194.3,130.5 197.1,132.0 198.9,131.2 200.8,131.6 202.7,131.5 204.5,131.5 206.1,131.5 207.7,132.2 209.3,131.9 210.9,132.2 212.5,132.3 214.1,133.1 215.7,133.1 217.2,133.0 218.8,133.1 220.3,133.8 221.8,133.8 223.4,134.1 224.9,133.9 226.4,134.2 227.9,134.1 229.5,134.9 231.0,134.4 232.5,135.1 234.0,135.6 235.5,135.7 237.0,135.3 238.6,135.7 240.1,136.5 241.6,136.5 243.3,136.8 244.9,136.9 246.6,136.5 248.3,137.0 250.0,136.9 251.7,136.6 253.3,136.7 255.0,136.5 256.5,136.3 258.1,136.4 259.6,135.0 261.2,135.9 262.9,135.9 264.5,136.3 266.1,137.3 267.6,137.1 269.1,137.0 270.6,137.2 272.1,137.8 273.6,137.9 275.2,137.5 276.7,137.8 278.2,138.7 279.8,138.2 281.4,138.7 282.9,138.7 284.4,139.2 286.0,139.2 287.6,139.5 289.1,139.4 290.6,139.2 292.2,139.4 293.7,139.3 295.3,140.1 296.8,139.4 298.4,139.3 299.9,140.2 301.5,139.5 303.0,140.2 304.6,139.4 306.1,139.8 307.6,139.6 309.2,140.2 310.7,140.0 312.3,140.1 313.8,140.2 315.4,140.3 316.9,139.8 318.5,140.1 320.0,139.9 321.6,139.6 323.1,140.4 324.6,140.2 326.2,140.4 327.8,139.9 329.3,140.2 330.8,140.2 332.4,140.5 333.9,139.9 335.5,140.2 337.1,140.4 338.6,140.0 340.1,140.5 341.7,140.7 343.2,140.4 344.8,140.7 346.3,140.7 347.9,140.3 349.5,140.5 351.1,141.1 352.6,140.5 354.2,140.6 355.8,140.3 357.4,140.4 358.9,140.4 360.5,141.2 362.1,141.0 363.7,141.2 365.3,141.3 366.8,141.0 368.4,141.3 370.0,140.9 371.6,140.9 373.2,141.6 374.8,141.7 376.4,141.8 378.0,141.5 379.6,141.9 381.3,141.6 382.9,142.3 384.5,142.4 386.1,141.9 387.7,142.6 389.3,142.0 390.9,141.9 392.5,142.5 394.1,142.1 395.7,142.3 397.3,142.4 398.9,141.8 400.5,142.5 402.1,142.1 403.7,142.2 405.3,142.1 406.9,142.5 408.5,142.5 410.1,142.1 411.7,142.0 413.2,142.2 414.8,142.4 416.4,142.1 418.0,142.2 419.6,142.9 421.2,142.9 422.7,143.2 424.3,143.2 425.9,143.2 427.8,143.3 429.8,143.8 431.7,144.6 433.2,144.8 434.8,144.9 436.3,145.0 437.9,144.9 439.4,145.5 441.3,143.9 443.2,143.2 444.7,143.6 446.3,143.6 447.8,143.1 449.4,143.1 450.9,143.7 452.4,143.0 454.0,143.1 455.5,143.6 457.1,143.6 458.6,143.3 460.1,143.2 461.7,143.4 463.2,144.0 464.8,143.7 466.3,144.3 467.9,144.1 469.5,144.3 471.1,143.4 472.7,143.6 474.3,143.5 476.0,143.9 477.6,143.9 479.2,143.6 480.8,144.1 482.4,143.7 484.0,144.0 485.6,143.9 487.3,144.7 489.1,144.5 490.8,144.5 492.6,144.5 494.3,145.1"/></svg>
</body></html>
